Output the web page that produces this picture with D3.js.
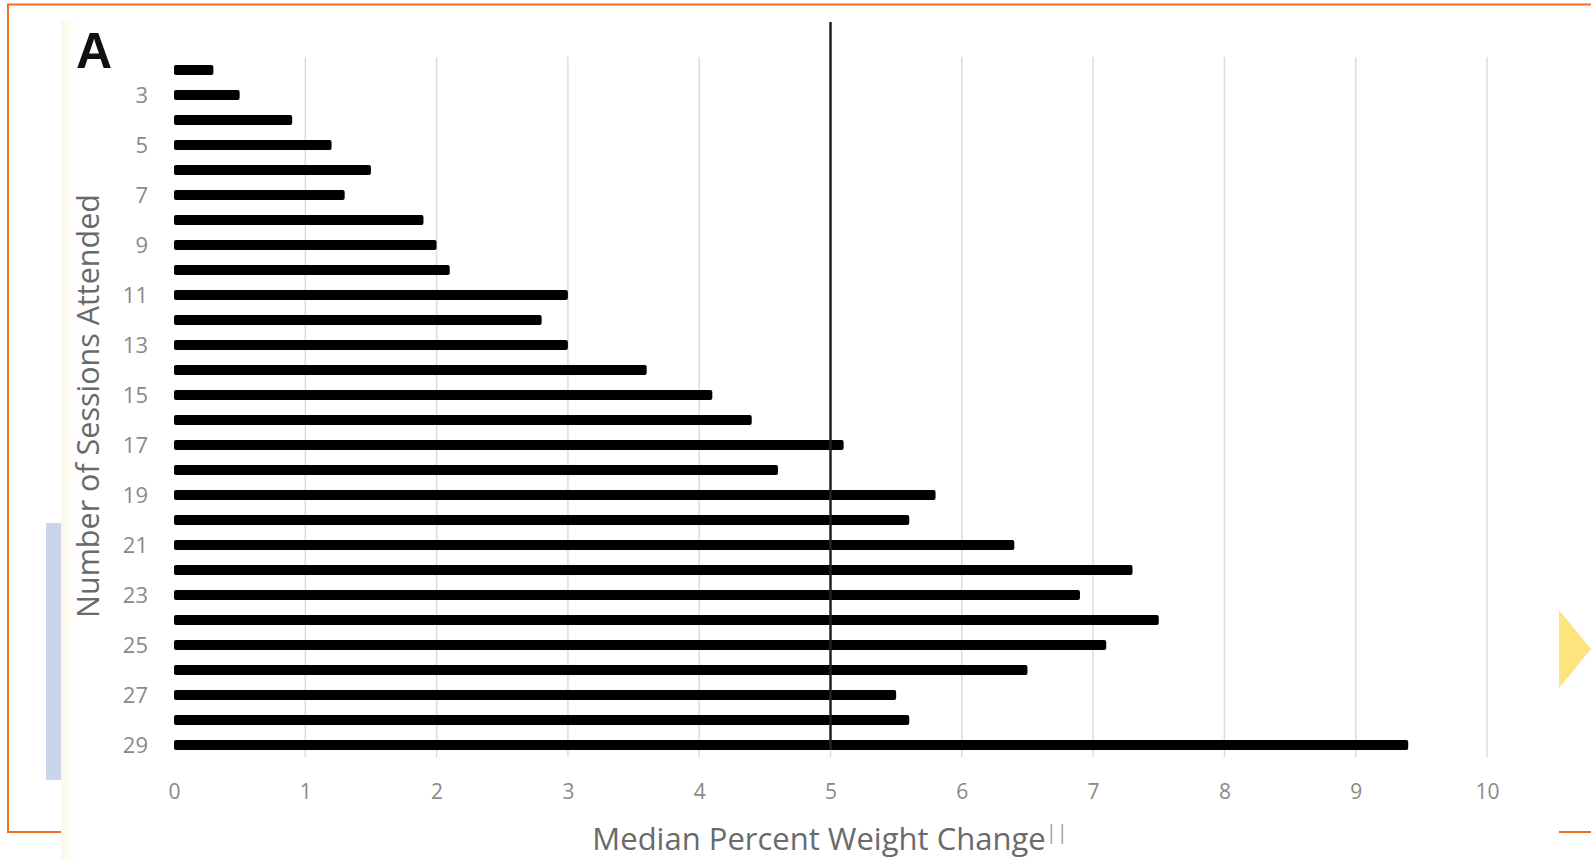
<!DOCTYPE html>
<html>
<head>
<meta charset="utf-8">
<script src="https://cdn.jsdelivr.net/npm/d3@7"></script>
<style>
  html, body { margin: 0; padding: 0; background: #fff; }
  svg { display: block; }
</style>
</head>
<body>
<div id="chart"></div>
<script>
// sessions attended (rows of the chart) and the median % weight change for each
var sessions = [2, 3, 4, 5, 6, 7, 8, 9, 10, 11, 12, 13, 14, 15, 16, 17, 18, 19, 20,
                21, 22, 23, 24, 25, 26, 27, 28, 29];
var weightChange = [0.3, 0.5, 0.9, 1.2, 1.5, 1.3, 1.9, 2.0, 2.1, 3.0, 2.8, 3.0, 3.6, 4.1,
                    4.4, 5.1, 4.6, 5.8, 5.6, 6.4, 7.3, 6.9, 7.5, 7.1, 6.5, 5.5, 5.6, 9.4];
var xTicks = [0, 1, 2, 3, 4, 5, 6, 7, 8, 9, 10];
var yTickLabels = [3, 5, 7, 9, 11, 13, 15, 17, 19, 21, 23, 25, 27, 29];
var refLine = 5;

var width = 1591, height = 859;

var svg = d3.select('#chart').append('svg')
    .attr('width', width)
    .attr('height', height);

// page decoration round the figure (orange frame, blue tab, yellow arrow)
svg.append('rect')
    .attr('x', 46).attr('y', 523)
    .attr('width', 16).attr('height', 257)
    .style('fill', '#c9d6ea');

svg.append('path')
    .attr('d', 'M' + width + ',4.5 H8 V832 H62 M1559,832 H' + width)
    .style('fill', 'none')
    .style('stroke', '#f26f21')
    .style('stroke-width', 2);

// the figure panel itself
var defs = svg.append('defs');
var grad = defs.append('linearGradient').attr('id', 'cream');
grad.append('stop').attr('offset', '0%').attr('stop-color', '#fdf8e8');
grad.append('stop').attr('offset', '100%').attr('stop-color', '#ffffff');

svg.append('rect')
    .attr('x', 61).attr('y', 21)
    .attr('width', 1498).attr('height', height - 21)
    .style('fill', '#fff');
svg.append('rect')
    .attr('x', 61).attr('y', 21)
    .attr('width', 16).attr('height', height - 21)
    .style('fill', 'url(#cream)');

svg.append('path')
    .attr('d', 'M1559,610 L1591,649 L1559,688 Z')
    .style('fill', '#fde47c');

// scales
var x = d3.scaleLinear().domain([0, 10]).range([174, 1487]);
var y = d3.scalePoint().domain(sessions).range([57.5, 757.5]).padding(0.5);
var barH = 10;

// vertical grid
svg.append('g').selectAll('line')
    .data(xTicks.slice(1))
    .enter().append('line')
    .attr('x1', function (d) { return x(d); })
    .attr('x2', function (d) { return x(d); })
    .attr('y1', 57)
    .attr('y2', 757)
    .style('stroke', '#dcdcdc')
    .style('stroke-width', 1.5);

// bars
svg.append('g').selectAll('rect')
    .data(sessions)
    .enter().append('rect')
    .attr('x', x(0))
    .attr('y', function (d) { return y(d) - barH / 2; })
    .attr('width', function (d, i) { return x(weightChange[i]) - x(0); })
    .attr('height', barH)
    .attr('rx', 2)
    .style('fill', '#000');

// reference line at 5%
svg.append('line')
    .attr('x1', x(refLine)).attr('x2', x(refLine))
    .attr('y1', 22).attr('y2', y(29) + barH / 2)
    .style('stroke', '#222')
    .style('stroke-width', 2.5);

// axes
var yAxis = d3.axisLeft(y).tickValues(yTickLabels).tickSize(0).tickPadding(26);
var gy = svg.append('g').attr('transform', 'translate(' + x(0) + ',0)').call(yAxis);
gy.select('.domain').remove();
gy.selectAll('text')
    .style('font-family', '"Open Sans", sans-serif')
    .style('font-size', '22px')
    .style('fill', '#8a8a8a');

var xAxis = d3.axisBottom(x).tickValues(xTicks).tickSize(0).tickPadding(27);
var gx = svg.append('g').attr('transform', 'translate(0,757)').call(xAxis);
gx.select('.domain').remove();
gx.selectAll('text')
    .style('font-family', '"Open Sans", sans-serif')
    .style('font-size', '21px')
    .style('fill', '#8a8a8a');

// titles
svg.append('text')
    .attr('transform', 'translate(99,406) rotate(-90)')
    .attr('text-anchor', 'middle')
    .style('font-family', '"Open Sans", sans-serif')
    .style('font-size', '30.5px')
    .style('fill', '#6a6a6a')
    .text('Number of Sessions Attended');

var xt = svg.append('text')
    .attr('x', 830).attr('y', 850)
    .attr('text-anchor', 'middle')
    .style('font-family', '"Open Sans", sans-serif')
    .style('font-size', '31px')
    .style('fill', '#6a6a6a');
xt.append('tspan').text('Median Percent Weight Change');
xt.append('tspan')
    .attr('dy', -11)
    .style('font-size', '20px')
    .style('fill', '#a0a0a0')
    .text('||');

svg.append('text')
    .attr('x', 76).attr('y', 68)
    .style('font-family', '"Liberation Sans", Arial, sans-serif')
    .style('font-weight', 'bold')
    .style('font-size', '50px')
    .style('fill', '#111')
    .text('A');
</script>
</body>
</html>
